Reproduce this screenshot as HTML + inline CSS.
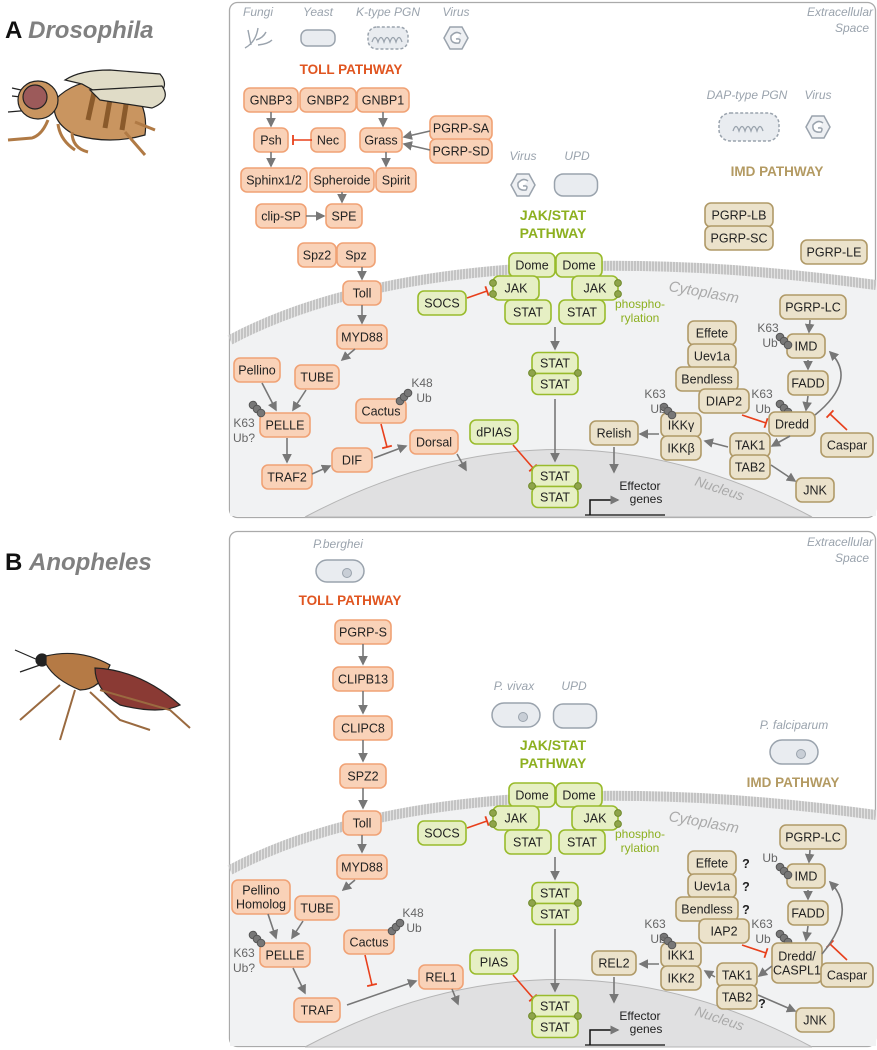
<!DOCTYPE html>
<html><head><meta charset="utf-8"><style>
body{margin:0;background:#fff;}
svg{display:block;font-family:"Liberation Sans",sans-serif;}
.bx text{font-size:12.5px;fill:#222;}
</style></head><body>
<svg id="s" width="877" height="1050" viewBox="0 0 877 1050" xmlns="http://www.w3.org/2000/svg">
<defs>
<marker id="ar" markerWidth="6" markerHeight="6" refX="5" refY="3" orient="auto"><path d="M0,0 L6,3 L0,6 z" fill="#777"/></marker>
<pattern id="mem" width="3" height="10" patternUnits="userSpaceOnUse"><rect width="3" height="10" fill="#c4c4c4"/><rect width="1" height="10" fill="#e2e2e2"/></pattern>
</defs>
<text x="5" y="38" font-size="24" font-weight="bold" fill="#111">A <tspan fill="#808080" font-style="italic">Drosophila</tspan></text>
<text x="5" y="570" font-size="24" font-weight="bold" fill="#111">B <tspan fill="#808080" font-style="italic">Anopheles</tspan></text>
<g stroke="#222" stroke-width="1.2">
<path d="M8,112 L32,110 M12,96 L30,98 M12,88 L30,92" fill="none"/>
<path d="M55,100 Q75,78 115,80 Q150,95 145,135 Q110,145 75,135 Q50,122 55,100z" fill="#c99560"/>
<path d="M88,120 L95,88 M105,128 L112,88 M122,130 L128,92" stroke="#8a5a2b" stroke-width="5"/>
<path d="M82,84 L65,80 Q80,70 110,70 L160,74 Q172,88 152,98 L100,94z" fill="#e0dcc7"/>
<path d="M90,90 L162,86 Q172,100 152,108 L100,100z" fill="#e0dcc7"/>
<ellipse cx="38" cy="100" rx="20" ry="19" fill="#c99560"/>
<ellipse cx="35" cy="97" rx="12" ry="12" fill="#9c5a5a"/>
<path d="M48,120 Q42,135 32,138 L8,140 M58,124 Q60,140 75,150 M72,132 Q72,148 88,152 M125,132 L145,155 M135,122 L155,130" fill="none" stroke="#b07a45" stroke-width="3"/>
</g>
<g stroke="#222" stroke-width="1.2">
<path d="M15,650 L38,660 M20,672 L40,665" fill="none"/>
<circle cx="42" cy="660" r="6" fill="#222"/>
<path d="M46,656 Q80,648 110,665 Q100,690 80,690 Q55,680 46,664z" fill="#b57a45"/>
<path d="M95,668 Q140,670 180,705 Q160,715 120,705 Q95,690 95,668z" fill="#8a3a34"/>
<path d="M60,685 L20,720 M75,690 L60,740 M90,692 L120,720 L150,730 M100,690 L170,710 L190,728" fill="none" stroke="#9a6a40" stroke-width="2"/>
</g>
<rect x="229.5" y="2.5" width="646" height="515" rx="8" fill="#fff" stroke="#aaa" stroke-width="1.3"/>
<rect x="229.5" y="531.5" width="646" height="515" rx="8" fill="#fff" stroke="#aaa" stroke-width="1.3"/>
<g id="layer"></g>
</svg>
<script>
const S=document.getElementById('layer');
const NS='http://www.w3.org/2000/svg';
const C={t:['#f9d2b8','#f0a275'],j:['#e6efc4','#99bb2c'],i:['#ebe2cb','#b09a68']};
function el(tag,attrs,parent){const e=document.createElementNS(NS,tag);for(const k in attrs)e.setAttribute(k,attrs[k]);(parent||S).appendChild(e);return e;}
function box(cx,cy,w,label,type,h){
  h=h||24;
  const g=el('g',{class:'bx'});
  
  
  el('rect',{x:cx-w/2,y:cy-h/2,width:w,height:h,rx:6,fill:C[type][0],stroke:C[type][1],'stroke-width':1.6},g);
  const lines=label.split('|');
  lines.forEach((l,i)=>{const t=el('text',{x:cx,y:cy+4.5+(i-(lines.length-1)/2)*14,'text-anchor':'middle'},g);t.textContent=l;});
}
function txt(x,y,s,opt){
  const t=el('text',Object.assign({x:x,y:y,'font-size':11,fill:'#999','text-anchor':'middle'},opt||{}));
  
  
  t.textContent=s;
}
function arr(x1,y1,x2,y2){const l=el('line',{x1,y1,x2,y2,stroke:'#777','stroke-width':1.6,'marker-end':'url(#ar)'});
  
  }
function inh(x1,y1,x2,y2){const l=el('line',{x1,y1,x2,y2,stroke:'#e8401c','stroke-width':1.6});
  
  
  const dx=x2-x1,dy=y2-y1,L=Math.hypot(dx,dy),nx=-dy/L*5,ny=dx/L*5;
  const b=el('line',{x1:x2+nx,y1:y2+ny,x2:x2-nx,y2:y2-ny,stroke:'#e8401c','stroke-width':1.8});
  
  }
function ub(x,y,dx,dy){for(let i=0;i<3;i++){const c=el('circle',{cx:x+i*dx,cy:y+i*dy,r:3.8,fill:'#777',stroke:'#555'});
  
  }}
function dot(x,y){const c=el('circle',{cx:x,cy:y,r:3.4,fill:'#8fa44a',stroke:'#6f8a2a'});
  
  }
function virus(x,y){const p=el('path',{d:`M${x-12},${y} L${x-6},${y-11} L${x+6},${y-11} L${x+12},${y} L${x+6},${y+11} L${x-6},${y+11}z M${x+5},${y-4} Q${x},${y-8} ${x-5},${y-2} Q${x-6},${y+6} ${x+3},${y+5} Q${x+6},${y} ${x},${y+1}`,fill:'#eef0f3',stroke:'#9aa3ad','stroke-width':1.5});
  
  }
function pill(x,y,w,h,dashed,inner){const r=el('rect',{x:x-w/2,y:y-h/2,width:w,height:h,rx:inner?h/2:h/2.5,fill:'#e9ecf0',stroke:'#9aa3ad','stroke-width':1.5,'stroke-dasharray':dashed?'3,2':'none'});
  
  
  if(inner){const c=el('circle',{cx:x+7,cy:y+2,r:4.5,fill:'#c8ced6',stroke:'#9aa3ad'});
  
  }
  if(dashed){const p=el('path',{d:`M${x-16},${y+4} q3,-9 6,0 q3,-9 6,0 q3,-9 6,0 q3,-9 6,0 q3,-9 6,0`,fill:'none',stroke:'#9aa3ad','stroke-width':1.3});
  
  }}
const G={fill:'#9aa3ad','font-style':'italic','font-size':12};
const OR={fill:'#e05520','font-weight':'bold','font-size':13.5};
const GR={fill:'#8db020','font-weight':'bold','font-size':14};
const TN={fill:'#b39a62','font-weight':'bold','font-size':13.5};
const UB={fill:'#666','font-size':12};
const Q={fill:'#222','font-weight':'bold','font-size':12.5};

function cell(d){
  const m=el('g',{});
  
  
  el('path',{d:`M230,${340+d} C380,${260+d} 620,${250+d} 876,${285+d} L876,${516+d} L230,${516+d}z`,fill:'#f1f2f3'},m);
  el('path',{d:`M230,${340+d} C380,${260+d} 620,${250+d} 876,${285+d}`,fill:'none',stroke:'url(#mem)','stroke-width':10},m);
  el('path',{d:`M305,${517+d} Q560,${382+d} 812,${517+d}z`,fill:'#e0e0e1',stroke:'#b5b5b5'},m);
  txt(703,297+d,'Cytoplasm',{fill:'#aaa','font-style':'italic','font-size':15,transform:`rotate(10 703 ${297+d})`});
  txt(718,493+d,'Nucleus',{fill:'#aaa','font-style':'italic','font-size':14,transform:`rotate(18 718 ${493+d})`});
  txt(840,16+d,'Extracellular',G);txt(852,32+d,'Space',G);
}
function jak(d,pias){
  txt(553,220+d,'JAK/STAT',GR);txt(553,238+d,'PATHWAY',GR);
  box(532,265+d,46,'Dome','j');box(579,265+d,46,'Dome','j');
  box(516,288+d,46,'JAK','j');box(595,288+d,46,'JAK','j');
  box(528,312+d,46,'STAT','j');box(582,312+d,46,'STAT','j');
  dot(493,283+d);dot(493,294+d);dot(618,283+d);dot(618,294+d);
  box(442,303+d,48,'SOCS','j');inh(467,298+d,487,291+d);
  txt(640,308+d,'phospho-',{fill:'#8db020','font-size':12});txt(640,322+d,'rylation',{fill:'#8db020','font-size':12});
  box(555,363+d,46,'STAT','j',21);box(555,384+d,46,'STAT','j',21);dot(532,373+d);dot(578,373+d);
  arr(555,327+d,555,349+d);arr(555,399+d,555,461+d);
  box(494,432+d,48,pias,'j');inh(513,445+d,533,468+d);
  box(555,476+d,46,'STAT','j',21);box(555,497+d,46,'STAT','j',21);dot(532,486+d);dot(578,486+d);
  el('path',{d:`M590,${515+d} L590,${500+d} L618,${500+d}`,fill:'none',stroke:'#111','stroke-width':1.5,'marker-end':'url(#ar)'});
  el('line',{x1:585,y1:515+d,x2:665,y2:515+d,stroke:'#111','stroke-width':1.3});
  txt(640,490+d,'Effector',{fill:'#222','font-size':12});txt(646,503+d,'genes',{fill:'#222','font-size':12});
}
function imdLower(d,B){
  const tx=B?737:750;
  box(813,307+d,66,'PGRP-LC','i');box(806,346+d,38,'IMD','i');box(808,383+d,40,'FADD','i');
  box(712,333+d,48,'Effete','i');box(712,356+d,48,'Uev1a','i');box(707,379+d,62,'Bendless','i');box(724,401+d,50,B?'IAP2':'DIAP2','i');
  if(B){txt(746,338+d,'?',Q);txt(746,361+d,'?',Q);txt(746,384+d,'?',Q);}
  ub(780,337+d,4,4);
  if(B){txt(770,332+d,'Ub',UB);}else{txt(768,332+d,'K63',UB);txt(770,347+d,'Ub',UB);}
  ub(780,404+d,4,4);txt(762,398+d,'K63',UB);txt(763,413+d,'Ub',UB);
  if(B)box(797,433+d,50,'Dredd/|CASPL1','i',40);else box(792,424+d,46,'Dredd','i');
  box(847,445+d,52,'Caspar','i');box(tx,445+d,40,'TAK1','i');box(tx,467+d,40,'TAB2','i');box(815,490+d,38,'JNK','i');
  box(681,425+d,40,B?'IKK1':'IKKγ','i');box(681,448+d,40,B?'IKK2':'IKKβ','i');
  ub(664,407+d,4,4);txt(655,398+d,'K63',UB);txt(658,413+d,'Ub',UB);
  box(614,433+d,B?44:48,B?'REL2':'Relish','i');
  if(B)txt(762,478+d,'?',Q);
  arr(810,320+d,809,332+d);arr(808,360+d,808,369+d);arr(808,396+d,806,410+d);
  inh(847,430+d,830,414+d);inh(742,415+d,766,423+d);
  el('path',{d:`M${B?822:815},${(B?424:415)+d} Q858,${380+d} 830,${352+d}`,fill:'none',stroke:'#777','stroke-width':1.6,'marker-end':'url(#ar)'});
  arr(B?772:790,436+d,tx+22,446+d);arr(tx-22,447+d,705,441+d);arr(659,434+d,640,434+d);arr(614,447+d,614,472+d);arr(tx+21,465+d,795,481+d);
}
// ===== Panel A =====
cell(0);
txt(258,16,'Fungi',G);txt(318,16,'Yeast',G);txt(388,16,'K-type PGN',G);txt(456,16,'Virus',G);
const f=el('path',{d:'M245,48 Q256,42 258,28 M251,45 L248,30 M256,40 Q263,38 266,32 M258,45 Q268,44 272,40',fill:'none',stroke:'#9aa3ad','stroke-width':1.4});


pill(318,38,34,16,false);pill(388,38,40,22,true);virus(456,38);
txt(351,74,'TOLL PATHWAY',OR);
box(271,100,54,'GNBP3','t');box(328,100,56,'GNBP2','t');box(383,100,52,'GNBP1','t');
box(271,140,34,'Psh','t');box(328,140,34,'Nec','t');box(381,140,42,'Grass','t');
box(461,128,62,'PGRP-SA','t');box(461,151,62,'PGRP-SD','t');
box(274,180,66,'Sphinx1/2','t');box(342,180,64,'Spheroide','t');box(396,180,40,'Spirit','t');
box(281,216,50,'clip-SP','t');box(344,216,36,'SPE','t');
box(317,255,38,'Spz2','t');box(356,255,38,'Spz','t');
box(362,293,38,'Toll','t');box(362,337,50,'MYD88','t');
box(257,370,46,'Pellino','t');box(317,377,44,'TUBE','t');box(285,425,50,'PELLE','t');
box(381,411,50,'Cactus','t');box(434,442,48,'Dorsal','t');
box(287,477,50,'TRAF2','t');box(352,460,40,'DIF','t');
ub(253,405,4,4);txt(244,427,'K63',UB);txt(244,442,'Ub?',UB);
ub(400,401,4,-4);txt(422,387,'K48',UB);txt(424,402,'Ub',UB);
arr(271,112,271,126);arr(383,112,383,126);inh(312,140,293,140);arr(430,131,404,137);arr(430,150,404,144);
arr(271,152,271,166);arr(386,152,386,166);arr(342,192,342,202);arr(306,216,324,216);
arr(362,267,362,279);arr(362,305,362,323);arr(355,349,342,360);arr(262,383,276,410);arr(306,390,293,410);
arr(287,438,287,462);arr(312,474,330,466);arr(374,458,406,446);inh(381,424,387,447);arr(457,454,466,470);
txt(523,160,'Virus',G);txt(577,160,'UPD',G);virus(523,185);pill(576,185,43,22,false);
jak(0,'dPIAS');
txt(747,99,'DAP-type PGN',G);txt(818,99,'Virus',G);pill(749,127,60,28,true);virus(818,127);
txt(777,176,'IMD PATHWAY',TN);
box(739,215,68,'PGRP-LB','i');box(739,238,68,'PGRP-SC','i');box(834,252,66,'PGRP-LE','i');
imdLower(0,false);

// ===== Panel B =====
const d=530;
cell(d);
txt(338,548,'P.berghei',G);pill(340,571,48,22,false,true);
txt(350,605,'TOLL PATHWAY',OR);
box(363,632,56,'PGRP-S','t');box(363,679,60,'CLIPB13','t');box(363,728,58,'CLIPC8','t');box(363,776,46,'SPZ2','t');
box(362,823,38,'Toll','t');box(362,867,50,'MYD88','t');
box(261,897,58,'Pellino|Homolog','t',34);box(317,908,44,'TUBE','t');box(285,955,50,'PELLE','t');
box(369,942,50,'Cactus','t');box(317,1010,46,'TRAF','t');box(441,977,44,'REL1','t');
ub(253,935,4,4);txt(244,957,'K63',UB);txt(244,972,'Ub?',UB);
ub(392,931,4,-4);txt(413,917,'K48',UB);txt(414,932,'Ub',UB);
arr(363,644,363,664);arr(363,691,363,713);arr(363,740,363,761);arr(363,788,363,808);arr(362,835,362,852);arr(355,880,343,890);
arr(268,914,276,938);arr(303,921,292,938);arr(293,968,305,993);arr(347,1005,416,981);inh(365,955,372,985);arr(452,989,458,1004);
txt(514,690,'P. vivax',G);txt(574,690,'UPD',G);pill(516,715,48,24,false,true);pill(575,716,43,24,false);
jak(d,'PIAS');
txt(794,729,'P. falciparum',G);pill(794,752,48,24,false,true);
txt(793,787,'IMD PATHWAY',TN);
imdLower(d,true);
</script>
</body></html>
